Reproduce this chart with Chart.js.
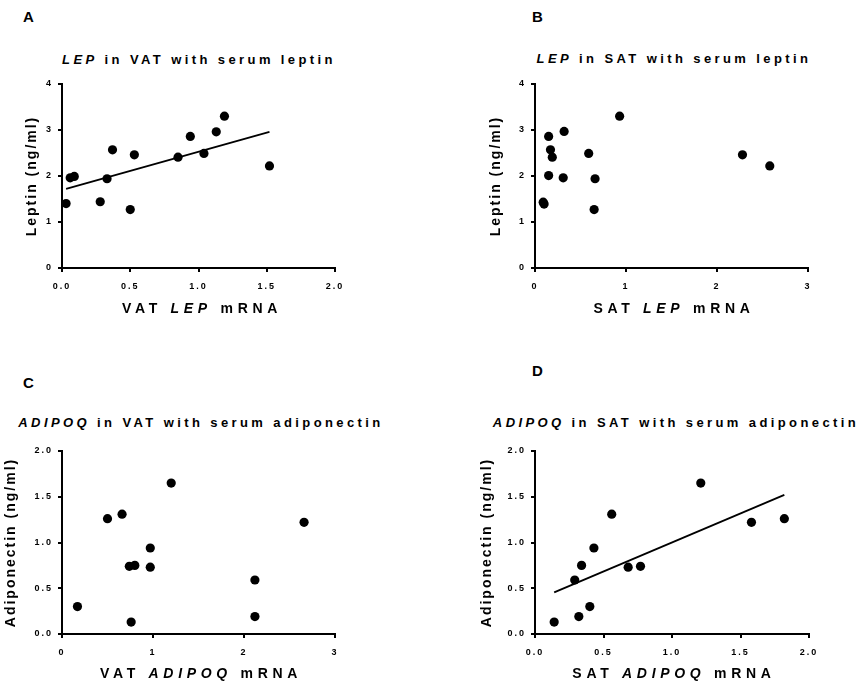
<!DOCTYPE html>
<html>
<head>
<meta charset="utf-8">
<script src="https://cdn.jsdelivr.net/npm/chart.js@4.4.0/dist/chart.umd.min.js"></script>
<style>
body{margin:0;background:#fff;font-family:"Liberation Sans",Arial,sans-serif;}
#wrap{position:relative;width:859px;height:681px;overflow:hidden;}
canvas{position:absolute;}
.lbl{position:absolute;font-weight:bold;color:#000;white-space:nowrap;transform:translate(-50%,-50%);}
.letter{font-size:15px;transform:translate(0,-50%);}
.ttl{font-size:13px;letter-spacing:3.4px;}
.xt{font-size:14px;letter-spacing:4.7px;}
</style>
</head>
<body>
<div id="wrap">
  <canvas id="cA" width="430" height="240" style="left:0;top:70px"></canvas>
  <canvas id="cB" width="429" height="240" style="left:430px;top:70px"></canvas>
  <canvas id="cC" width="430" height="230" style="left:0;top:437px"></canvas>
  <canvas id="cD" width="429" height="230" style="left:430px;top:437px"></canvas>

  <div class="lbl letter" style="left:23px;top:16px">A</div>
  <div class="lbl letter" style="left:532px;top:16px">B</div>
  <div class="lbl letter" style="left:23px;top:382px">C</div>
  <div class="lbl letter" style="left:532px;top:370px">D</div>

  <div class="lbl ttl" style="left:199px;top:59px"><i>LEP</i> in VAT with serum leptin</div>
  <div class="lbl ttl" style="left:674px;top:58px"><i>LEP</i> in SAT with serum leptin</div>
  <div class="lbl ttl" style="left:201px;top:422px"><i>ADIPOQ</i> in VAT with serum adiponectin</div>
  <div class="lbl ttl" style="left:676px;top:422px"><i>ADIPOQ</i> in SAT with serum adiponectin</div>

  <div class="lbl xt" style="left:202px;top:308px">VAT <i>LEP</i> mRNA</div>
  <div class="lbl xt" style="left:674px;top:308px">SAT <i>LEP</i> mRNA</div>
  <div class="lbl xt" style="left:201px;top:673px">VAT <i>ADIPOQ</i> mRNA</div>
  <div class="lbl xt" style="left:674px;top:673px">SAT <i>ADIPOQ</i> mRNA</div>
</div>
<script>
// A: LEP in VAT vs serum leptin
const vatLepX = [0.03, 0.06, 0.09, 0.28, 0.33, 0.37, 0.50, 0.53, 0.85, 0.94, 1.04, 1.13, 1.19, 1.52];
const vatLepY = [1.40, 1.96, 1.99, 1.44, 1.94, 2.57, 1.27, 2.46, 2.41, 2.86, 2.49, 2.96, 3.30, 2.22];
const vatLepFitX = [0.03, 1.52];
const vatLepFitY = [1.72, 2.96];

// B: LEP in SAT vs serum leptin
const satLepX = [0.09, 0.10, 0.15, 0.15, 0.17, 0.19, 0.32, 0.31, 0.59, 0.65, 0.66, 0.93, 2.28, 2.58];
const satLepY = [1.43, 1.39, 2.86, 2.01, 2.57, 2.41, 2.97, 1.96, 2.49, 1.27, 1.94, 3.30, 2.46, 2.22];

// C: ADIPOQ in VAT vs serum adiponectin
const vatAdiX = [0.17, 0.50, 0.66, 0.74, 0.80, 0.76, 0.97, 0.97, 1.20, 2.12, 2.12, 2.66];
const vatAdiY = [0.30, 1.26, 1.31, 0.74, 0.75, 0.13, 0.94, 0.73, 1.65, 0.59, 0.19, 1.22];

// D: ADIPOQ in SAT vs serum adiponectin
const satAdiX = [0.14, 0.29, 0.32, 0.34, 0.40, 0.43, 0.56, 0.68, 0.77, 1.21, 1.58, 1.82];
const satAdiY = [0.13, 0.59, 0.19, 0.75, 0.30, 0.94, 1.31, 0.73, 0.74, 1.65, 1.22, 1.26];
const satAdiFitX = [0.14, 1.82];
const satAdiFitY = [0.455, 1.52];

// tick labels
const lepYTicks = ['0', '1', '2', '3', '4'];
const adiYTicks = ['0.0', '0.5', '1.0', '1.5', '2.0'];
const halfXTicks = ['0.0', '0.5', '1.0', '1.5', '2.0'];
const wholeXTicks = ['0', '1', '2', '3'];

const BOLD = {family: '"Liberation Sans", Arial, sans-serif', weight: 'bold'};

// canvas letter spacing (the figure uses widely spaced text)
const spacing = {
    id: 'spacing',
    beforeLayout(c){ c.ctx.letterSpacing = '2px'; },
    beforeDraw(c){ c.ctx.letterSpacing = '2px'; }
};

function pts(xs, ys){
    return xs.map((v, i) => ({x: v, y: ys[i]}));
}

function makeChart(id, p){
    const datasets = [{
        data: pts(p.x, p.y),
        pointRadius: 4.6,
        pointBackgroundColor: '#000',
        pointBorderWidth: 0,
        showLine: false
    }];
    if(p.fitX){
        datasets.push({
            data: pts(p.fitX, p.fitY),
            showLine: true,
            borderColor: '#000',
            borderWidth: 1.8,
            pointRadius: 0
        });
    }
    const axisGrid = {display: true, drawOnChartArea: false, drawTicks: true, tickLength: 4, color: '#000', lineWidth: 2};
    const last = a => parseFloat(a[a.length - 1]);
    new Chart(document.getElementById(id), {
        type: 'scatter',
        data: {datasets: datasets},
        options: {
            responsive: false,
            animation: false,
            layout: {padding: {left: 0, top: p.top, right: p.right, bottom: 0}},
            plugins: {legend: {display: false}, tooltip: {enabled: false}},
            scales: {
                x: {
                    type: 'linear', min: 0, max: last(p.xTicks),
                    afterBuildTicks: s => { s.ticks = p.xTicks.map(t => ({value: parseFloat(t)})); },
                    ticks: {callback: (v, i) => p.xTicks[i], color: '#000', font: {...BOLD, size: 9}, padding: 9, maxRotation: 0},
                    grid: axisGrid,
                    border: {color: '#000', width: 2},
                    afterFit: s => { s.height = p.bottomH; }
                },
                y: {
                    type: 'linear', min: 0, max: last(p.yTicks),
                    afterBuildTicks: s => { s.ticks = p.yTicks.map(t => ({value: parseFloat(t)})); },
                    ticks: {callback: (v, i) => p.yTicks[i], color: '#000', font: {...BOLD, size: 9}, padding: 5},
                    grid: axisGrid,
                    border: {color: '#000', width: 2},
                    title: {display: true, text: p.yTitle, color: '#000', font: {...BOLD, size: 14}, padding: {top: p.yTitlePad, bottom: 0}},
                    afterFit: s => { s.width = p.leftW; }
                }
            }
        },
        plugins: [spacing]
    });
}

makeChart('cA', {x: vatLepX, y: vatLepY, fitX: vatLepFitX, fitY: vatLepFitY,
    xTicks: halfXTicks, yTicks: lepYTicks, yTitle: 'Leptin (ng/ml)',
    top: 14, right: 95, bottomH: 42, leftW: 62, yTitlePad: 24});
makeChart('cB', {x: satLepX, y: satLepY,
    xTicks: wholeXTicks, yTicks: lepYTicks, yTitle: 'Leptin (ng/ml)',
    top: 14, right: 51, bottomH: 42, leftW: 105, yTitlePad: 58});
makeChart('cC', {x: vatAdiX, y: vatAdiY,
    xTicks: wholeXTicks, yTicks: adiYTicks, yTitle: 'Adiponectin (ng/ml)',
    top: 14, right: 95, bottomH: 33, leftW: 62, yTitlePad: 3});
makeChart('cD', {x: satAdiX, y: satAdiY, fitX: satAdiFitX, fitY: satAdiFitY,
    xTicks: halfXTicks, yTicks: adiYTicks, yTitle: 'Adiponectin (ng/ml)',
    top: 14, right: 50, bottomH: 33, leftW: 105, yTitlePad: 49});
</script>
</body>
</html>
